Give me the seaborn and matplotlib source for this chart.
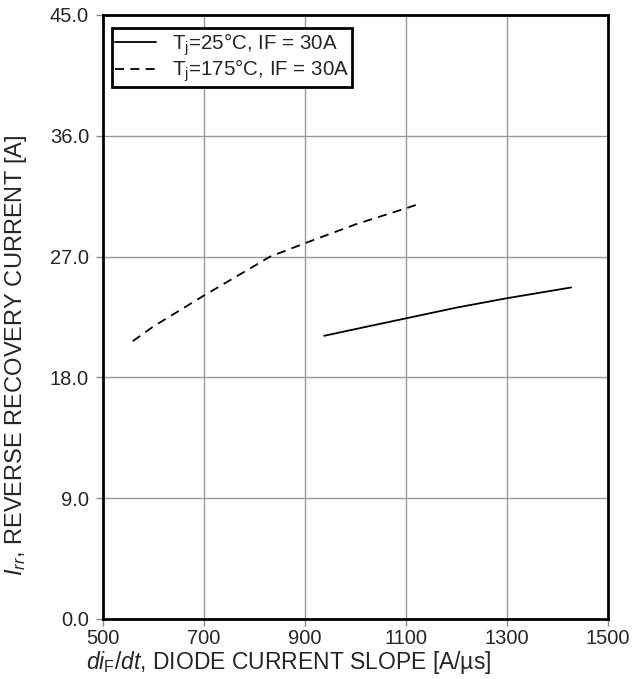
import numpy as np
import pandas as pd
import matplotlib
matplotlib.use("Agg")
import matplotlib.pyplot as plt
import seaborn as sns
from matplotlib.lines import Line2D

# Data
x_25 = [938, 1000, 1100, 1200, 1300, 1427]
y_25 = [21.1, 21.6, 22.4, 23.2, 23.9, 24.7]
x_175 = [559, 600, 700, 831, 900, 1000, 1100, 1124]
y_175 = [20.7, 21.8, 24.1, 27.0, 28.0, 29.4, 30.6, 30.9]
labels = ["T$_\\mathrm{j}$=25°C, IF = 30A", "T$_\\mathrm{j}$=175°C, IF = 30A"]
xticks = [500, 700, 900, 1100, 1300, 1500]
yticks = [0, 9, 18, 27, 36, 45]

df = pd.concat([
    pd.DataFrame({"x": x_25, "y": y_25, "s": labels[0]}),
    pd.DataFrame({"x": x_175, "y": y_175, "s": labels[1]}),
])

sns.set_style("white")
plt.rcParams['font.family'] = ['Liberation Sans', 'DejaVu Sans']
plt.rcParams['mathtext.fontset'] = 'custom'
plt.rcParams['mathtext.rm'] = 'Liberation Sans'
plt.rcParams['mathtext.it'] = 'Liberation Sans:italic'

fig = plt.figure(figsize=(6.34, 6.79), dpi=100)
ax = fig.add_axes([103/634, 1-619/679, (608-103)/634, (619-15)/679])

sns.lineplot(data=df, x="x", y="y", hue="s", style="s",
             palette=["black", "black"], dashes=[(None, None), (4, 2.5)],
             linewidth=1.3, ax=ax, sort=False, legend=False)
ax.lines[1].set_dashes([5, 3.5])
ax.lines[0].set_linestyle('-')

ax.set_xlim(500, 1500)
ax.set_ylim(0, 45)
ax.set_xticks(xticks)
ax.set_yticks(yticks)
ax.set_yticklabels([f"{v:.1f}" for v in yticks])
ax.grid(True, color="#999999", linewidth=1.0)
ax.set_axisbelow(True)
for sp in ax.spines.values():
    sp.set_visible(True)
    sp.set_color("black")
    sp.set_linewidth(2)
ax.tick_params(axis="both", direction="out", length=5, width=1, color="#888888",
               labelsize=14.5, bottom=True, left=True)
ax.tick_params(axis="y", pad=5)
ax.tick_params(axis="x", pad=2)

ax.set_xlabel(r"$\mathit{di}_{\mathrm{F}}\mathit{/dt}$, DIODE CURRENT SLOPE [A/µs]", fontsize=16.5)
ax.set_ylabel(r"$\mathit{I}_{\mathit{rr}}$, REVERSE RECOVERY CURRENT [A]", fontsize=17)
ax.xaxis.set_label_coords((288.5-103)/505, (619-663)/604)
ax.xaxis.label.set_va("center")
ax.yaxis.set_label_coords((16-103)/505, (619-355)/604)
ax.yaxis.label.set_va("center")

handles = [Line2D([], [], color="black", lw=1.3, ls='-'),
           Line2D([], [], color="black", lw=1.3, ls=(0, (5, 3.5)))]
leg = ax.legend(handles, labels, loc="upper left", fontsize=14.8, frameon=True,
                fancybox=False, edgecolor="black", framealpha=1,
                handlelength=2.0, handletextpad=0.75, borderpad=0.15,
                labelspacing=0.0, borderaxespad=0,
                bbox_to_anchor=(9/505, 1-13/604))
leg.get_frame().set_linewidth(2)

fig.savefig("out.png", dpi=100)
